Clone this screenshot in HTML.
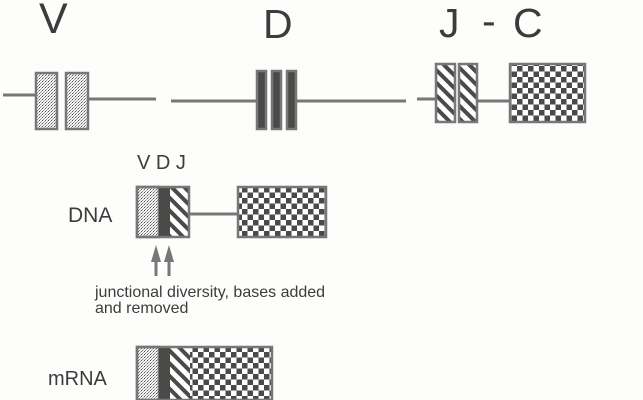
<!DOCTYPE html>
<html><head><meta charset="utf-8"><style>
html,body{margin:0;padding:0;background:#fdfdfb;}
svg{display:block}
text{font-family:"Liberation Sans",sans-serif;fill:#3c3c3c}
</style></head><body>
<svg width="643" height="400" viewBox="0 0 643 400" xmlns="http://www.w3.org/2000/svg">
<defs>
<pattern id="dots" width="3" height="3" patternUnits="userSpaceOnUse">
<rect width="3" height="3" fill="#f4f4f4"/>
<rect x="0" y="0" width="1" height="1" fill="#555"/>
<rect x="1" y="2" width="1" height="1" fill="#888"/>
<rect x="2" y="1" width="1" height="1" fill="#aaa"/>
</pattern>
<pattern id="chk" width="11" height="11" patternUnits="userSpaceOnUse">
<rect width="11" height="11" fill="#fff"/>
<rect width="5.5" height="5.5" fill="#4a4a48"/>
<rect x="5.5" y="5.5" width="5.5" height="5.5" fill="#4a4a48"/>
</pattern>
<pattern id="hat" width="9" height="9" patternUnits="userSpaceOnUse" patternTransform="rotate(45)">
<rect width="9" height="9" fill="#fff"/>
<rect width="9" height="4" fill="#4a4a48"/>
</pattern>
</defs>
<g fill="none" stroke="#777" stroke-width="3">
<line x1="3" y1="95" x2="35" y2="95"/>
<line x1="88" y1="99" x2="156" y2="99"/>
<line x1="171" y1="101" x2="256" y2="101"/>
<line x1="297" y1="101" x2="406" y2="101"/>
<line x1="417" y1="99" x2="435" y2="99"/>
<line x1="478" y1="101" x2="510" y2="101"/>
<line x1="190" y1="214" x2="237" y2="214"/>
</g>
<g stroke="#777" stroke-width="2.5">
<rect x="36" y="73" width="21" height="56" fill="url(#dots)"/>
<rect x="66" y="73" width="22" height="56" fill="url(#dots)"/>
<rect x="257" y="71" width="9" height="58" fill="#4a4a48"/>
<rect x="272" y="71" width="9" height="58" fill="#4a4a48"/>
<rect x="287" y="71" width="9" height="58" fill="#4a4a48"/>
<rect x="436" y="64" width="19" height="58" fill="url(#hat)"/>
<rect x="459" y="64" width="18" height="58" fill="url(#hat)"/>
<rect x="510" y="64" width="75" height="58" fill="url(#chk)"/>
<rect x="137" y="187" width="22" height="50" fill="url(#dots)"/>
<rect x="159" y="187" width="11" height="50" fill="#4a4a48" stroke="none"/>
<rect x="170" y="187" width="19" height="50" fill="url(#hat)" stroke="none"/>
<rect x="137" y="187" width="52" height="50" fill="none"/>
<rect x="238" y="187" width="88" height="50" fill="url(#chk)"/>
<rect x="137" y="347" width="22" height="53" fill="url(#dots)"/>
<rect x="159" y="347" width="11" height="53" fill="#4a4a48" stroke="none"/>
<rect x="170" y="347" width="20" height="53" fill="url(#hat)" stroke="none"/>
<rect x="190" y="347" width="82" height="53" fill="url(#chk)" stroke="none"/>
<rect x="137" y="347" width="135" height="53" fill="none"/>
</g>
<g fill="#777">
<polygon points="156,245 151,262 154.5,262 154.5,276 157.5,276 157.5,262 161,262"/>
<polygon points="169,245 164,262 167.5,262 167.5,276 170.5,276 170.5,262 174,262"/>
</g>
<text x="39" y="33" font-size="43">V</text>
<text x="263" y="38" font-size="41">D</text>
<text x="439" y="37" font-size="41">J</text>
<text x="482" y="35" font-size="41">-</text>
<text x="513" y="37" font-size="41">C</text>
<text x="137" y="169" font-size="20">V D J</text>
<text x="68" y="222" font-size="21">DNA</text>
<text x="48" y="385" font-size="20">mRNA</text>
<text x="95" y="297" font-size="16">junctional diversity, bases added</text>
<text x="95" y="313" font-size="16">and removed</text>
</svg>
</body></html>
